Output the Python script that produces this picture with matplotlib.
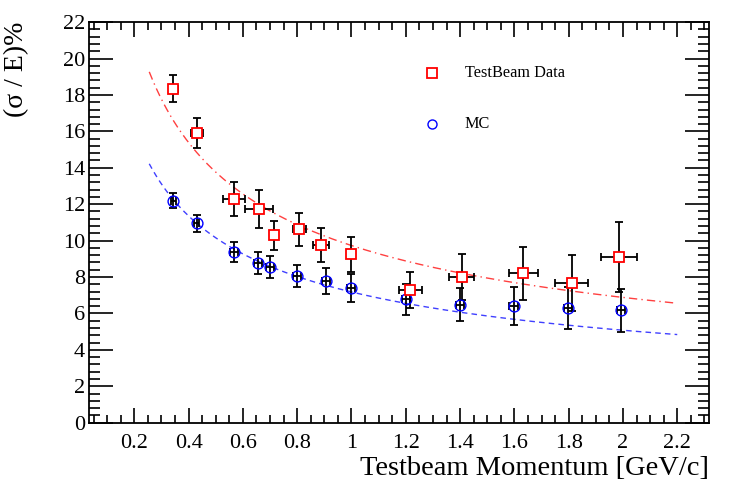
import numpy as np
import matplotlib
matplotlib.use("Agg")
import matplotlib.pyplot as plt
from matplotlib.ticker import MultipleLocator, FuncFormatter

# ---- data ----
data_x = [0.344, 0.430, 0.567, 0.659, 0.715, 0.807, 0.887, 0.999, 1.217, 1.406, 1.633, 1.812, 1.986]
data_xerr = [0.017, 0.023, 0.039, 0.050, 0.015, 0.024, 0.029, 0.015, 0.042, 0.047, 0.054, 0.061, 0.066]
data_y = [18.34, 15.92, 12.28, 11.73, 10.30, 10.62, 9.75, 9.24, 7.30, 8.01, 8.20, 7.68, 9.11]
data_yerr = [0.75, 0.83, 0.94, 1.04, 0.79, 0.92, 0.92, 0.98, 0.98, 1.28, 1.47, 1.53, 1.92]

mc_x = [0.344, 0.430, 0.567, 0.657, 0.700, 0.799, 0.905, 0.999, 1.201, 1.400, 1.597, 1.799, 1.994]
mc_xerr = [0.010, 0.010, 0.015, 0.015, 0.015, 0.015, 0.015, 0.015, 0.015, 0.015, 0.015, 0.015, 0.015]
mc_y = [12.19, 10.95, 9.35, 8.75, 8.53, 8.05, 7.79, 7.39, 6.77, 6.49, 6.40, 6.29, 6.18]
mc_yerr = [0.41, 0.46, 0.55, 0.60, 0.61, 0.62, 0.70, 0.76, 0.84, 0.92, 1.06, 1.14, 1.19]

# fit parameters  sigma/E = a / sqrt(p)
fit_data_a = 9.73
fit_mc_a = 7.18
fit_range = (0.255, 2.2)

legend_labels = ["TestBeam Data", "MC"]
xlabel = "Testbeam Momentum [GeV/c]"
ylabel = "(σ / E)%"

# ---- figure ----
plt.rcParams['font.family'] = ['Liberation Serif', 'DejaVu Serif']
fig = plt.figure(figsize=(7.47, 4.97), dpi=100)
ax = fig.add_axes([0.1195, 0.1495, 0.830, 0.806])

xf = np.linspace(fit_range[0], fit_range[1], 300)
ax.plot(xf, fit_data_a / np.sqrt(xf), color=(1, 0.25, 0.25), lw=1.0,
        linestyle=(0, (6, 3, 1, 3)), zorder=2)
ax.plot(xf, fit_mc_a / np.sqrt(xf), color=(0.25, 0.25, 1), lw=1.0,
        linestyle=(0, (4, 3)), zorder=2)

eb_kw = dict(fmt='none', ecolor='black', elinewidth=1.3, capsize=2.8, capthick=1.3)
ax.errorbar(mc_x, mc_y, xerr=mc_xerr, yerr=mc_yerr, zorder=3, **eb_kw)
ax.errorbar(data_x, data_y, xerr=data_xerr, yerr=data_yerr, zorder=3, **eb_kw)

ax.plot(mc_x, mc_y, 'o', ms=7.8, mfc='none', mec='blue', mew=1.0, zorder=4)
ax.plot(data_x, data_y, 's', ms=7.5, mfc='white', mec='red', mew=1.3, zorder=5)

ax.set_xlim(0.034, 2.318)
ax.set_ylim(0, 22)

ax.xaxis.set_major_locator(MultipleLocator(0.2))
ax.xaxis.set_minor_locator(MultipleLocator(0.05))
ax.yaxis.set_major_locator(MultipleLocator(2))
ax.yaxis.set_minor_locator(MultipleLocator(0.4))
ax.xaxis.set_major_formatter(FuncFormatter(lambda v, p: f"{v:g}" if v > 0.1 else ""))
ax.yaxis.set_major_formatter(FuncFormatter(lambda v, p: f"{v:g}"))

ax.tick_params(which='both', direction='in', top=True, right=True, labelsize=16, width=1.2)
ax.tick_params(axis='x', which='major', length=11, pad=8)
ax.tick_params(axis='x', which='minor', length=5.5)
ax.tick_params(axis='y', which='major', length=17, pad=3)
ax.tick_params(axis='y', which='minor', length=8)
for s in ax.spines.values():
    s.set_linewidth(1.3)

# legend (ROOT-style, no frame)
lx_marker = (432 - 89.3) / (709.3 - 89.3)
lx_text = (465 - 89.3) / (709.3 - 89.3)
ly1 = (422.5 - 73) / 400.4
ly2 = (422.5 - 123.5) / 400.4
ax.plot([lx_marker], [ly1], 's', ms=6.5, mfc='white', mec='red', mew=1.3, transform=ax.transAxes)
ax.plot([lx_marker], [ly2], 'o', ms=6.5, mfc='none', mec='blue', mew=1.0, transform=ax.transAxes)
ax.text(lx_text, ly1, legend_labels[0], transform=ax.transAxes, fontsize=11.7, va='center', ha='left')
ax.text(lx_text, ly2, legend_labels[1], transform=ax.transAxes, fontsize=11.7, va='center', ha='left')

fig.text(0.9495, 0.058, xlabel, ha='right', va='center', fontsize=20.5)
fig.text(0.022, 0.957, ylabel, ha='center', va='top', rotation=90, fontsize=20)

fig.savefig("out.png", dpi=100)
